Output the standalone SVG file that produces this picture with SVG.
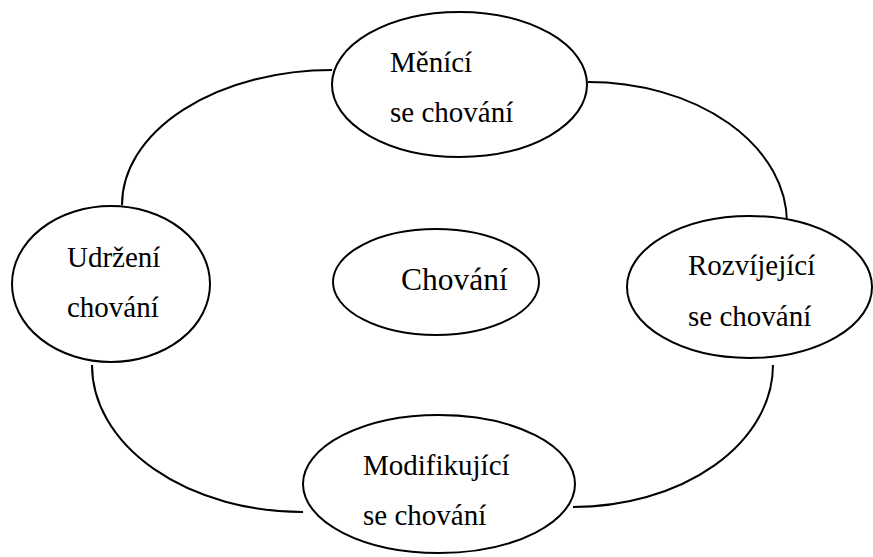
<svg xmlns="http://www.w3.org/2000/svg" width="873" height="557" viewBox="0 0 873 557">
<style>
.n{fill:#fff;stroke:#000;stroke-width:2}
.c{fill:none;stroke:#000;stroke-width:2}
</style>
<rect width="873" height="557" fill="#fff"/>
<g id="connectors">
<path class="c" d="M332,70 A210,135 0 0 0 122,205"/>
<path class="c" d="M588,82 A199,141 0 0 1 787,223"/>
<path class="c" d="M773,365 A200,142 0 0 1 573,507"/>
<path class="c" d="M92,365 A211,147 0 0 0 303,512"/>
</g>
<g font-family="Times New Roman, Liberation Serif, DejaVu Serif, serif" font-size="29" fill="#000">
<g id="menici">
<ellipse class="n" cx="459.5" cy="84.5" rx="127.5" ry="72.5"/>
<text x="390" y="72">Měnící</text>
<text x="390" y="122">se chování</text>
</g>
<g id="udrzeni">
<ellipse class="n" cx="111" cy="284" rx="99" ry="78"/>
<text x="67" y="267">Udržení</text>
<text x="67" y="317">chování</text>
</g>
<g id="chovani">
<ellipse class="n" cx="436" cy="282" rx="103" ry="53"/>
<text x="401" y="290" font-size="31.5">Chování</text>
</g>
<g id="rozvijejici">
<ellipse class="n" cx="749.5" cy="287" rx="122.5" ry="71"/>
<text x="688" y="275">Rozvíjející</text>
<text x="688" y="326">se chování</text>
</g>
<g id="modifikujici">
<ellipse class="n" cx="439" cy="484" rx="136" ry="69"/>
<text x="363" y="475">Modifikující</text>
<text x="363" y="525">se chování</text>
</g>
</g>
</svg>
